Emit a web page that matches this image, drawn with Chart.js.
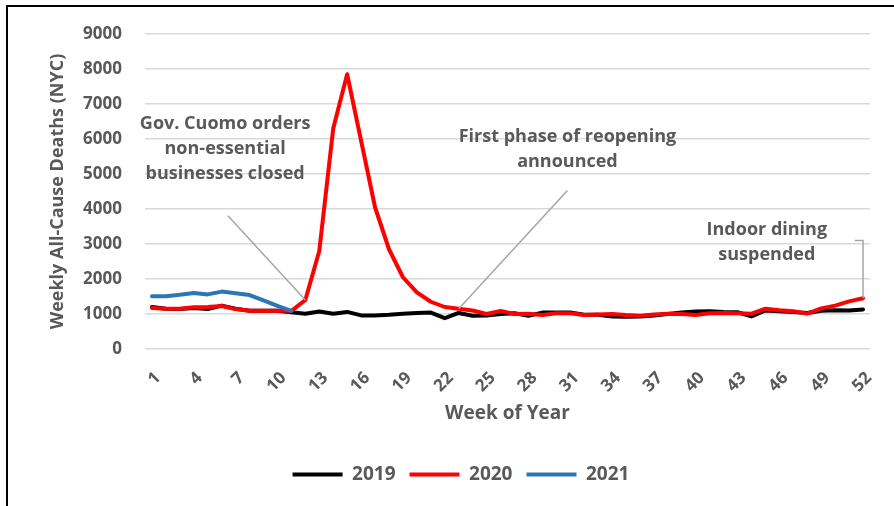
<!DOCTYPE html>
<html>
<head>
<meta charset="utf-8">
<script src="https://cdn.jsdelivr.net/npm/chart.js@4.4.1/dist/chart.umd.min.js"></script>
<style>
    html, body { margin: 0; padding: 0; background: #fff; }
    #wrap { position: relative; width: 894px; height: 506px; overflow: hidden; }
    #frame {
        position: absolute; left: 6px; top: 5px; right: -10px; bottom: -10px;
        border-top: 2px solid #000; border-left: 2px solid #000;
        pointer-events: none;
    }
</style>
</head>
<body>
<div id="wrap">
    <canvas id="chart" width="894" height="506"></canvas>
    <div id="frame"></div>
</div>
<script>
// week numbers on the category axis
const weeks = Array.from({ length: 52 }, (_, i) => String(i + 1));
// only every third week gets a label
const shownWeeks = [1, 4, 7, 10, 13, 16, 19, 22, 25, 28, 31, 34, 37, 40, 43, 46, 49, 52];

const deaths2019 = [
    1200, 1150, 1140, 1170, 1140, 1240, 1150, 1090, 1090, 1090, 1050, 1010,
    1070, 1010, 1060, 960, 960, 980, 1010, 1030, 1040, 880, 1030, 950,
    960, 1000, 1020, 950, 1040, 1040, 1040, 980, 980, 930, 920, 930,
    960, 1000, 1040, 1070, 1080, 1060, 1050, 930, 1100, 1080, 1060, 1030,
    1090, 1110, 1100, 1130
];
const deaths2020 = [
    1170, 1150, 1150, 1190, 1200, 1230, 1140, 1090, 1090, 1090, 1090, 1400,
    2800, 6300, 7850, 5950, 4050, 2850, 2050, 1620, 1350, 1200, 1150, 1100,
    1000, 1090, 1000, 1010, 970, 1020, 1020, 970, 985, 1000, 970, 950,
    985, 1010, 1000, 970, 1020, 1030, 1020, 1010, 1150, 1110, 1080, 1010,
    1160, 1240, 1360, 1450
];
const deaths2021 = [1510, 1510, 1550, 1600, 1560, 1640, 1590, 1540, 1390, 1230, 1090];

const yMin = 0;
const yMax = 9000;
const yStep = 1000;

// call-outs, anchored in chart units (week, deaths)
const notes = [
    {
        lines: ['Gov. Cuomo orders', 'non-essential', 'businesses closed'],
        week: 6.25, value: 6420,
        leader: [[6.45, 3810], [12, deaths2020[11]]]
    },
    {
        lines: ['First phase of reopening', 'announced'],
        week: 30.8, value: 6050,
        leader: [[30.8, 4530], [23, deaths2020[22]]]
    },
    {
        lines: ['Indoor dining', 'suspended'],
        week: 45.1, value: 3410,
        leader: [[51.4, 3100], [52, 3100], [52, deaths2020[51]]]
    }
];

const gray = '#595959';
Chart.defaults.font.family = '"Open Sans", sans-serif';
Chart.defaults.font.weight = 'bold';
Chart.defaults.color = gray;

const notesPlugin = {
    id: 'notes',
    afterDatasetsDraw(chart) {
        const { ctx } = chart;
        const x = chart.scales.x;
        const y = chart.scales.y;
        ctx.save();
        notes.forEach(note => {
            ctx.strokeStyle = '#a6a6a6';
            ctx.lineWidth = 1.5;
            ctx.beginPath();
            note.leader.forEach(([w, v], i) => {
                const px = x.getPixelForValue(w - 1);
                const py = y.getPixelForValue(v);
                if (i === 0) ctx.moveTo(px, py); else ctx.lineTo(px, py);
            });
            ctx.stroke();

            ctx.fillStyle = gray;
            ctx.font = 'bold 18px "Open Sans", sans-serif';
            ctx.textAlign = 'center';
            ctx.textBaseline = 'middle';
            const cx = x.getPixelForValue(note.week - 1);
            const cy = y.getPixelForValue(note.value);
            note.lines.forEach((t, i) => ctx.fillText(t, cx, cy + i * 25));
        });
        ctx.restore();
    }
};

const ctx = document.getElementById('chart').getContext('2d');
new Chart(ctx, {
    type: 'line',
    data: {
        labels: weeks,
        datasets: [
            { label: '2019', data: deaths2019, borderColor: '#000000', backgroundColor: '#000000', borderWidth: 4, order: 3 },
            { label: '2020', data: deaths2020, borderColor: '#ff0000', backgroundColor: '#ff0000', borderWidth: 4, order: 2 },
            { label: '2021', data: deaths2021, borderColor: '#2e75b6', backgroundColor: '#2e75b6', borderWidth: 4, order: 1 }
        ]
    },
    options: {
        responsive: false,
        devicePixelRatio: 1,
        animation: false,
        layout: {
            padding: { left: 52, right: 24, top: 34, bottom: 12 }
        },
        elements: {
            point: { radius: 0 },
            line: { tension: 0, borderJoinStyle: 'round', borderCapStyle: 'round', fill: false }
        },
        plugins: {
            tooltip: { enabled: false },
            legend: {
                position: 'bottom',
                labels: {
                    boxWidth: 50,
                    boxHeight: 4,
                    padding: 14,
                    color: gray,
                    font: { size: 19, weight: 'bold' },
                    sort: (a, b) => a.datasetIndex - b.datasetIndex,
                    generateLabels: chart => Chart.defaults.plugins.legend.labels.generateLabels(chart)
                        .map(item => ({ ...item, fillStyle: item.strokeStyle, lineWidth: 0 }))
                }
            }
        },
        scales: {
            x: {
                offset: true,
                grid: { display: false },
                border: { display: false },
                ticks: {
                    autoSkip: false,
                    minRotation: 45,
                    maxRotation: 45,
                    padding: 11,
                    labelOffset: 6,
                    color: gray,
                    font: { size: 17, weight: 'bold' },
                    callback: (val, i) => shownWeeks.includes(i + 1) ? weeks[i] : ''
                },
                title: {
                    display: true,
                    text: 'Week of Year',
                    color: gray,
                    font: { size: 19, weight: 'bold' },
                    padding: { top: 0, bottom: 26 }
                },
                afterFit: scale => { scale.height = 102; }
            },
            y: {
                min: yMin,
                max: yMax,
                grid: { color: '#d9d9d9', lineWidth: 1.5, drawTicks: false },
                border: { display: false },
                ticks: {
                    stepSize: yStep,
                    padding: 23,
                    color: gray,
                    font: { size: 17, weight: 'bold' },
                    callback: v => String(v)
                },
                title: {
                    display: true,
                    text: 'Weekly All-Cause Deaths (NYC)',
                    color: gray,
                    font: { size: 18, weight: 'bold' },
                    padding: { top: -5, bottom: 0 }
                },
                afterFit: scale => { scale.width = 93; }
            }
        }
    },
    plugins: [notesPlugin]
});
</script>
</body>
</html>
